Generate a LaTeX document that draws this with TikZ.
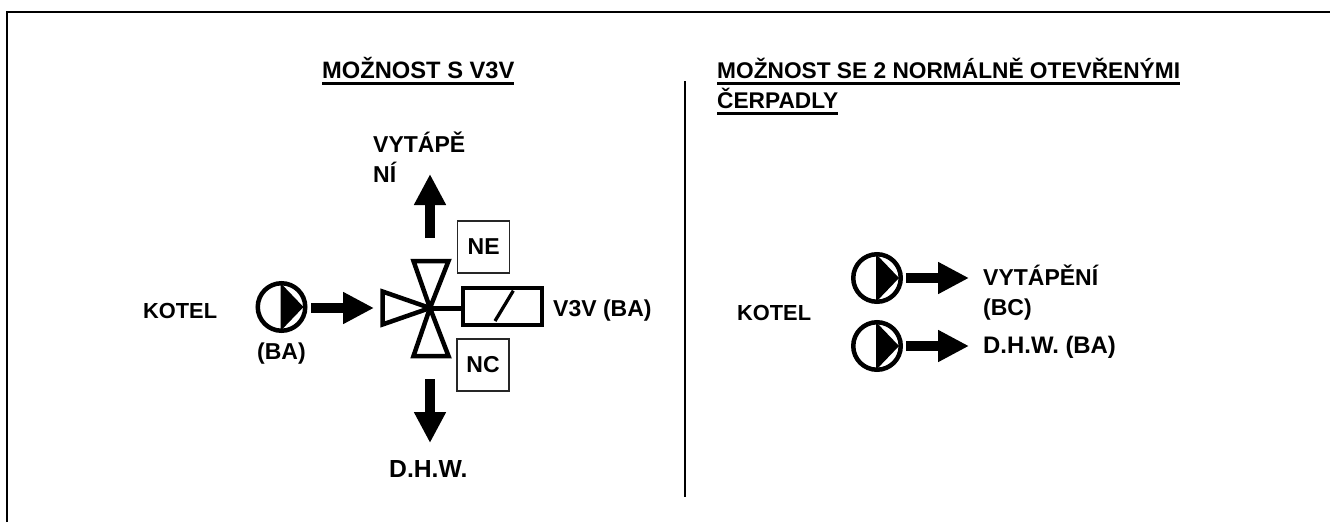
\documentclass[tikz,border=0pt]{standalone}
\usepackage{fontspec}
\setmainfont{Liberation Sans}
\usetikzlibrary{arrows.meta}
\newcommand{\ulx}[1]{\leavevmode\setbox0\hbox{#1}\rlap{\rule[-6.5pt]{\wd0}{3pt}}\box0}
\newcommand{\fsz}[1]{\fontsize{#1}{29.5}\selectfont}
\tikzset{
  x=1pt,y=-1pt,
  lab/.style={font=\fontsize{23}{29.5}\selectfont\bfseries,inner sep=0pt,anchor=base west,align=left},
  pumpc/.style={circle,draw=black,line width=4.5pt,minimum size=47.5pt,inner sep=0pt,fill=white},
  flow/.style={line width=9.5pt,-{Triangle[length=31pt,width=30pt]}},
  tag/.style={draw=black!85,line width=1.2pt,fill=white,inner sep=0pt,font=\fontsize{23}{24}\selectfont\bfseries,minimum width=52pt,minimum height=52pt},
  valve/.style={draw=black,line width=4.5pt,miter limit=10,fill=white},
  rule/.style={draw=black,line width=2pt}
}
\begin{document}
\begin{tikzpicture}
\useasboundingbox (0,0) rectangle (1330,522);
\draw[rule] (7,522) coordinate (fa) -- (7,12) coordinate (fb) -- (1330,12) coordinate (fc);
\draw[rule] (685,81) coordinate (da) -- (685,497) coordinate (db);
% headings
\node[lab] (t1) at (322,78) {\fsz{23.7}\ulx{MOŽNOST S V3V}};
\node[lab] (t2) at (717,108) {\fsz{22.7}\ulx{MOŽNOST SE 2 NORMÁLNĚ OTEVŘENÝMI}\\\fsz{22.7}\ulx{ČERPADLY}};
% left
\node[lab] (k1) at (143,318) {\fsz{21.8}KOTEL};
\node[pumpc] (p1) at (281.5,307) {};
\fill (p1.center) ++(-1,-24) -- ++(23,24) -- ++(-23,24) -- cycle;
\node[lab] (ba) at (257,359.5) {(BA)};
\coordinate (v) at (430,308);
\coordinate (a1s) at (311,308);
\coordinate (a1e) at (374,308);
\coordinate (upb) at (430,238);
\coordinate (upe) at (430,174);
\coordinate (dnb) at (430,379);
\coordinate (dne) at (430,443);
\draw[flow] (a1s) -- (a1e);
\draw[flow] (upb) -- (upe);
\draw[flow] (dnb) -- (dne);
\draw[valve] (v) -- (413.5,261) -- (448.5,261) -- cycle;
\draw[valve] (v) -- (382.5,291.5) -- (382.5,324.5) -- cycle;
\draw[valve] (v) -- (413.5,356) -- (448.5,356) -- cycle;
\node[draw=black,line width=4.5pt,minimum width=79pt,minimum height=37pt,inner sep=0pt] (act) at (502.3,306.7) {};
\draw[line width=5pt] (v) -- (act.west |- v);
\draw[line width=3.3pt] (495,321) coordinate (s1) -- (513.3,290.7) coordinate (s2);
\node[tag] (ne) at (483.7,247) {NE};
\node[tag] (nc) at (483,365) {NC};
\node[lab] (vt) at (373,182) {VYTÁPĚ\\NÍ};
\node[lab] (v3) at (553,316) {V3V (BA)};
\node[lab] (dh) at (389,477) {\fsz{24.7}D.H.W.};
% right
\node[lab] (k2) at (737,320) {\fsz{21.8}KOTEL};
\node[pumpc] (p2) at (877,278) {};
\fill (p2.center) ++(-1,-24) -- ++(23,24) -- ++(-23,24) -- cycle;
\node[pumpc] (p3) at (877,346) {};
\fill (p3.center) ++(-1,-24) -- ++(23,24) -- ++(-23,24) -- cycle;
\coordinate (s2a) at (906,278);
\coordinate (s3a) at (906,346);
\coordinate (e2) at (969,278);
\coordinate (e3) at (969,346);
\draw[flow] (s2a) -- (e2);
\draw[flow] (s3a) -- (e3);
\node[lab] (h2) at (983,315) {VYTÁPĚNÍ\\(BC)};
\node[lab] (h3) at (983,353) {\fsz{23.9}D.H.W. (BA)};
\end{tikzpicture}
\end{document}
